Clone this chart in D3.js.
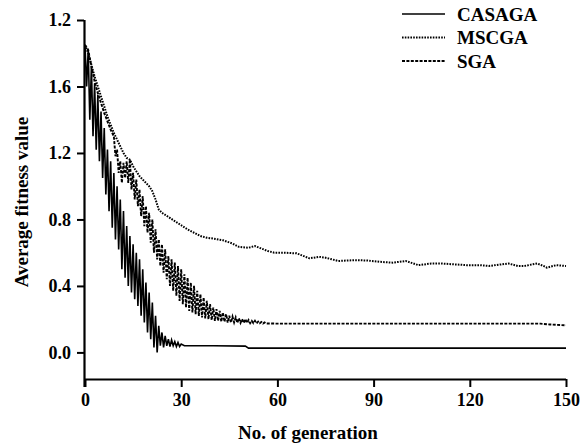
<!DOCTYPE html>
<html>
<head>
<meta charset="utf-8">
<script src="https://cdn.jsdelivr.net/npm/d3@7"></script>
<style>
  body { margin: 0; background: #fff; }
</style>
</head>
<body>
<div id="chart"></div>
<script>
// DATA  ([generation, average fitness])

var yTicks = [0, 0.4, 0.8, 1.2, 1.6, 2.0];
var yTickLabels = ['0.0', '0.4', '0.8', '1.2', '1.6', '1.2'];
var xTicks = [0, 30, 60, 90, 120, 150];

var seriesNames = ['CASAGA', 'MSCGA', 'SGA'];

var casagaPoints = [
  [0, 1.85], [0.5, 1.60], [1, 1.82], [1.5, 1.40], [2, 1.72], [2.5, 1.30], [3, 1.62], [3.5, 1.22],
  [4, 1.55], [4.5, 1.15], [5, 1.45], [5.5, 1.05], [6, 1.35], [6.5, 0.95], [7, 1.22], [7.5, 0.85],
  [8, 1.15], [8.5, 0.75], [9, 1.08], [9.5, 0.68], [10, 1.00], [10.5, 0.62], [11, 0.92], [11.5, 0.50],
  [12, 0.85], [12.5, 0.45], [13, 0.76], [13.5, 0.40], [14, 0.70], [14.5, 0.36], [15, 0.65], [15.5, 0.32],
  [16, 0.60], [16.5, 0.28], [17, 0.56], [17.5, 0.22], [18, 0.50], [18.5, 0.18], [19, 0.42], [19.5, 0.12],
  [20, 0.36], [20.5, 0.08], [21, 0.30], [21.5, 0.03], [22, 0.22], [22.5, 0.00], [23, 0.16], [23.5, 0.04],
  [24, 0.12], [24.5, 0.03], [25, 0.10], [25.5, 0.04], [26, 0.08], [26.5, 0.035], [27, 0.075], [27.5, 0.04],
  [28, 0.065], [28.5, 0.035], [29, 0.06], [29.5, 0.035], [30, 0.05], [31, 0.04], [34, 0.04], [40, 0.04],
  [50, 0.038], [51, 0.026], [60, 0.026], [90, 0.026], [120, 0.026], [150, 0.026]
];

var mscgaPoints = [
  [0, 1.85], [1, 1.80], [2, 1.73], [3, 1.66], [4, 1.60], [5, 1.54], [6, 1.48], [7, 1.42], [8, 1.37],
  [9, 1.32], [10, 1.28], [11, 1.24], [12, 1.20], [13, 1.17], [14, 1.16], [15, 1.12], [16, 1.09],
  [17, 1.06], [18, 1.04], [19, 1.02], [20, 1.00], [21, 0.97], [22, 0.92], [23, 0.86], [24, 0.84],
  [26, 0.815], [28, 0.79], [30, 0.765], [32, 0.74], [34, 0.72], [36, 0.70], [38, 0.69], [40, 0.685],
  [43, 0.675], [46, 0.655], [48, 0.635], [51, 0.63], [53, 0.64], [55, 0.625], [57, 0.61], [59, 0.60],
  [62, 0.60], [66, 0.596], [70, 0.566], [73, 0.575], [75, 0.57], [79, 0.55], [84, 0.555], [88, 0.553],
  [92, 0.545], [96, 0.54], [100, 0.55], [104, 0.525], [108, 0.535], [111, 0.535], [115, 0.53],
  [119, 0.525], [123, 0.525], [126, 0.52], [130, 0.53], [132, 0.535], [135, 0.52], [137, 0.52],
  [141, 0.535], [143, 0.52], [144, 0.51], [147, 0.525], [150, 0.52]
];

var sgaPoints = [
  [0, 1.85], [1, 1.82], [2, 1.72], [3, 1.63], [4, 1.56], [5, 1.50], [6, 1.44], [7, 1.39], [8, 1.34],
  [9, 1.30], [9.5, 1.18], [10, 1.22], [10.5, 1.08], [11, 1.15], [11.5, 1.02], [12, 1.14], [12.5, 1.05],
  [13, 1.15], [13.5, 1.02], [14, 1.16], [14.5, 0.98], [15, 1.08], [15.5, 0.92], [16, 1.04], [16.5, 0.88],
  [17, 0.98], [17.5, 0.82], [18, 0.94], [18.5, 0.76], [19, 0.88], [19.5, 0.72], [20, 0.84], [20.5, 0.66],
  [21, 0.80], [21.5, 0.60], [22, 0.74], [22.5, 0.56], [23, 0.68], [23.5, 0.52], [24, 0.65], [24.5, 0.48],
  [25, 0.62], [25.5, 0.44], [26, 0.58], [26.5, 0.40], [27, 0.56], [27.5, 0.37], [28, 0.54], [28.5, 0.34],
  [29, 0.52], [29.5, 0.31], [30, 0.50], [30.5, 0.29], [31, 0.47], [31.5, 0.27], [32, 0.45], [32.5, 0.25],
  [33, 0.42], [33.5, 0.24], [34, 0.40], [34.5, 0.23], [35, 0.37], [35.5, 0.22], [36, 0.35], [36.5, 0.21],
  [37, 0.33], [37.5, 0.205], [38, 0.31], [38.5, 0.20], [39, 0.29], [39.5, 0.195], [40, 0.27], [40.5, 0.19],
  [41, 0.26], [41.5, 0.19], [42, 0.25], [42.5, 0.185], [43, 0.24], [43.5, 0.185], [44, 0.23], [44.5, 0.18],
  [45, 0.22], [45.5, 0.18], [46, 0.215], [46.5, 0.18], [47, 0.21], [47.5, 0.178], [48, 0.205], [48.5, 0.178],
  [49, 0.20], [49.5, 0.177], [50, 0.20], [50.5, 0.177], [51, 0.195], [51.5, 0.176], [52, 0.19], [52.5, 0.176],
  [53, 0.19], [53.5, 0.175], [54, 0.185], [54.5, 0.175], [55, 0.183], [55.5, 0.174], [56, 0.18], [56.5, 0.174],
  [58, 0.174], [60, 0.173], [90, 0.173], [120, 0.173], [142, 0.173], [145, 0.168], [150, 0.163]
];

// GRAPHICS

var FONT = '"Liberation Serif", "Times New Roman", Times, "DejaVu Serif", serif';
var W = 584, H = 444;
var svg = d3.select('#chart').append('svg').attr('width', W).attr('height', H);

var x = d3.scaleLinear().domain([0, 150]).range([85, 566]);
var y = d3.scaleLinear().domain([-0.16, 2.0]).range([379, 20]);

// y axis
var yAxis = d3.axisLeft(y).tickValues(yTicks).tickSize(7).tickPadding(6)
  .tickFormat(function(d, i) { return yTickLabels[i]; });
var gy = svg.append('g').attr('transform', 'translate(84,0)').call(yAxis);

// x axis
var xAxis = d3.axisBottom(x).tickValues(xTicks).tickSize(8).tickPadding(6);
var gx = svg.append('g').attr('transform', 'translate(0,379)').call(xAxis);

[gx, gy].forEach(function(g) {
  g.attr('font-family', null).attr('font-size', null);
  g.select('.domain').attr('stroke', '#000').attr('stroke-width', 2.2);
  g.selectAll('.tick line').attr('stroke', '#000').attr('stroke-width', 2);
  g.selectAll('.tick text').attr('fill', '#000')
    .attr('font-family', FONT)
    .attr('font-size', 18).attr('font-weight', 'bold');
});
// domain paths without outer ticks
gy.select('.domain').attr('d', 'M0.5,' + y(2.0) + 'V' + (y.range()[0] + 8));
gx.select('.domain').attr('d', 'M' + x(0) + ',0.5H' + x(150));

// axis titles
svg.append('text')
  .attr('x', 308).attr('y', 439)
  .attr('text-anchor', 'middle')
  .attr('font-family', FONT)
  .attr('font-size', 19).attr('font-weight', 'bold')
  .text('No. of generation');

svg.append('text')
  .attr('transform', 'translate(28,202) rotate(-90)')
  .attr('text-anchor', 'middle')
  .attr('font-family', FONT)
  .attr('font-size', 19).attr('font-weight', 'bold')
  .text('Average fitness value');

// lines
var styles = {
  CASAGA: { dash: null, width: 1.6 },
  MSCGA: { dash: '1.6,1.2', width: 2 },
  SGA: { dash: '3,1.4', width: 1.9 }
};

var series = [
  { name: 'CASAGA', points: casagaPoints },
  { name: 'MSCGA', points: mscgaPoints },
  { name: 'SGA', points: sgaPoints }
];

var line = d3.line()
  .x(function(d) { return x(d[0]); })
  .y(function(d) { return y(d[1]); });

series.forEach(function(s) {
  svg.append('path')
    .datum(s.points)
    .attr('d', line)
    .attr('fill', 'none')
    .attr('stroke', '#000')
    .attr('stroke-width', styles[s.name].width)
    .attr('stroke-linejoin', 'miter')
    .attr('stroke-dasharray', styles[s.name].dash);
});

// legend
var legend = svg.append('g').attr('transform', 'translate(402,14)');
seriesNames.forEach(function(name, i) {
  var row = legend.append('g').attr('transform', 'translate(0,' + (i * 23.5) + ')');
  row.append('line')
    .attr('x1', 0).attr('x2', 43).attr('y1', 0).attr('y2', 0)
    .attr('stroke', '#000')
    .attr('stroke-width', styles[name].width)
    .attr('stroke-dasharray', styles[name].dash);
  row.append('text')
    .attr('x', 55).attr('y', 6.5)
    .attr('font-family', FONT)
    .attr('font-size', 19).attr('font-weight', 'bold')
    .text(name);
});
</script>
</body>
</html>
